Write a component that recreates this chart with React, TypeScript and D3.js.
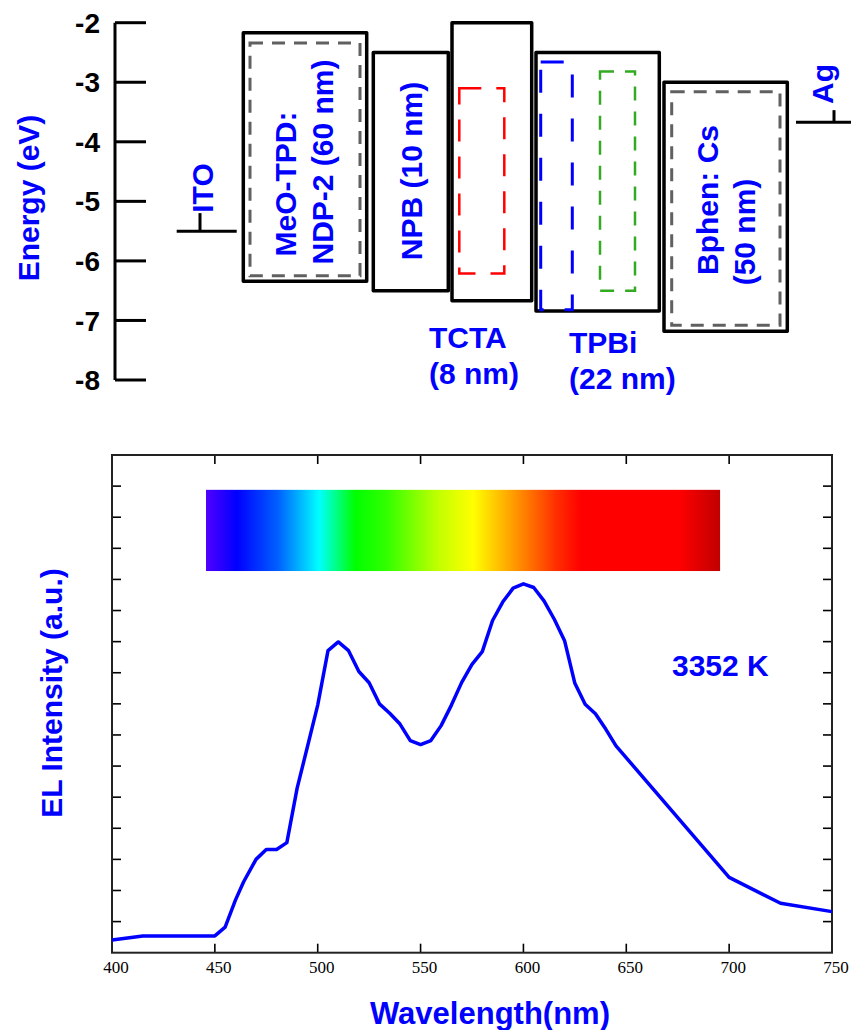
import React from "react";
import * as d3 from "d3";

// energy level diagram (eV)
const layerNames = ["MeO-TPD: NDP-2", "NPB", "TCTA", "TPBi", "Bphen: Cs"];
const layerLumo = [-2.17, -2.5, -2.0, -2.5, -3.0];
const layerHomo = [-6.34, -6.5, -6.67, -6.84, -7.18];

const dopantNames = ["MeO-TPD", "TCTA red", "TPBi blue", "TPBi green", "Bphen"];
const dopantLumo = [-2.34, -3.1, -2.66, -2.82, -3.16];
const dopantHomo = [-6.25, -6.21, -6.82, -6.5, -7.08];

const electrodeNames = ["ITO", "Ag"];
const electrodeLevel = [-5.5, -3.67];

const energyTicks = [-2, -3, -4, -5, -6, -7, -8];

// EL spectrum
const wavelength = [400, 415, 450, 455, 460, 464, 470, 475, 480, 485, 490, 495, 500, 505, 510, 515, 520, 525, 530, 535, 540, 545, 550, 555, 560, 565, 570, 575, 580, 585, 590, 595, 600, 605, 610, 615, 620, 625, 630, 635, 640, 645, 700, 725, 750];
const intensity = [0.41, 0.54, 0.54, 0.82, 1.69, 2.28, 3.0, 3.32, 3.32, 3.54, 5.29, 6.62, 7.96, 9.71, 9.99, 9.71, 9.04, 8.68, 8.0, 7.7, 7.35, 6.82, 6.69, 6.82, 7.3, 7.96, 8.69, 9.27, 9.68, 10.68, 11.28, 11.72, 11.86, 11.74, 11.31, 10.72, 10.03, 8.66, 7.99, 7.68, 7.19, 6.65, 2.42, 1.59, 1.32];
const wlTicks = [400, 450, 500, 550, 600, 650, 700, 750];
const spectrumBand = [445.7, 695.6];

// layout (pixels) for the boxes of the diagram
const layerX = [[243.3, 366.7], [373.3, 448.3], [452, 531.7], [536, 659.3], [664, 787.3]];
const dopantX = [[250, 360], [459.3, 504.3], [540.7, 572.3], [600, 635], [671.7, 780]];
const dopantStyle = [
  { color: "#606060", dash: "13,9", w: 3 },
  { color: "#ff0000", dash: "22,15", w: 2.5 },
  { color: "#0000ff", dash: "23,21", w: 3 },
  { color: "#33aa22", dash: "14,11", w: 2.5 },
  { color: "#606060", dash: "13,9", w: 3 },
];
const electrodeX = [[176.7, 236.7], [796, 851]];

const rainbow = [
  [0, "#5000ff"], [0.06, "#0000ff"], [0.14, "#0060ff"], [0.22, "#00ffff"],
  [0.29, "#00ff00"], [0.35, "#30ff00"], [0.45, "#c0ff00"], [0.52, "#ffff00"],
  [0.6, "#ff9900"], [0.68, "#ff3000"], [0.73, "#ff0000"], [0.92, "#ff0000"], [1, "#c00000"],
];

const sans = "'Liberation Sans', Arial, sans-serif";
const blue = "#0000ff";

export default function App() {
  const yE = d3.scaleLinear().domain([-2, -8]).range([22.7, 380]);

  const x = d3.scaleLinear().domain([400, 750]).range([112, 832]);
  const y = d3.scaleLinear().domain([0, 16]).range([952.7, 455]);
  const yTicks = d3.range(0, 17, 1);

  const line = d3.line<number>()
    .x((d, i) => x(wavelength[i]))
    .y((d) => y(d));

  const bold = { fontFamily: sans, fontWeight: 700 } as const;

  return (
    <svg width={851} height={1030} style={{ position: "absolute", left: 0, top: 0, background: "#fff" }}>
      <defs>
        <linearGradient id="rainbow" x1="0" x2="1" y1="0" y2="0">
          {rainbow.map(([o, c], i) => <stop key={i} offset={o as number} stopColor={c as string} />)}
        </linearGradient>
      </defs>

      {/* energy axis */}
      <g stroke="#000" strokeWidth={3}>
        <line x1={115} x2={115} y1={yE(-2)} y2={yE(-8)} />
        {energyTicks.map((t) => <line key={t} x1={115} x2={146} y1={yE(t)} y2={yE(t)} />)}
      </g>
      {energyTicks.map((t) => (
        <text key={t} x={100} y={yE(t)} dy="0.36em" textAnchor="end" fontSize={28} {...bold}>{t}</text>
      ))}
      <text transform={`translate(39,198) rotate(-90)`} textAnchor="middle" fontSize={30} fill={blue} {...bold}>Energy (eV)</text>

      {/* layers */}
      {layerNames.map((n, i) => (
        <rect key={n} x={layerX[i][0]} y={yE(layerLumo[i])} width={layerX[i][1] - layerX[i][0]}
          height={yE(layerHomo[i]) - yE(layerLumo[i])} fill="none" stroke="#000" strokeWidth={3.5} strokeLinejoin="round" />
      ))}
      {dopantNames.map((n, i) => (
        <rect key={n} x={dopantX[i][0]} y={yE(dopantLumo[i])} width={dopantX[i][1] - dopantX[i][0]}
          height={yE(dopantHomo[i]) - yE(dopantLumo[i])} fill="none" stroke={dopantStyle[i].color}
          strokeWidth={dopantStyle[i].w} strokeDasharray={dopantStyle[i].dash} />
      ))}

      {/* electrodes */}
      <g stroke="#000" strokeWidth={3}>
        {electrodeNames.map((n, i) => (
          <line key={n} x1={electrodeX[i][0]} x2={electrodeX[i][1]} y1={yE(electrodeLevel[i])} y2={yE(electrodeLevel[i])} />
        ))}
        <line x1={200} x2={200} y1={yE(electrodeLevel[0]) - 18} y2={yE(electrodeLevel[0])} />
        <line x1={834} x2={834} y1={yE(electrodeLevel[1]) - 12} y2={yE(electrodeLevel[1])} />
      </g>

      <g fill={blue} fontSize={30} {...bold}>
        <text transform="translate(213,188) rotate(-90)" textAnchor="middle">ITO</text>
        <text transform="translate(833,84) rotate(-90)" textAnchor="middle">Ag</text>
        <text transform="translate(296,184) rotate(-90)" textAnchor="middle">MeO-TPD:</text>
        <text transform="translate(333,162) rotate(-90)" textAnchor="middle">NDP-2 (60 nm)</text>
        <text transform="translate(422,171) rotate(-90)" textAnchor="middle">NPB (10 nm)</text>
        <text transform="translate(718,200) rotate(-90)" textAnchor="middle">Bphen: Cs</text>
        <text transform="translate(755,232) rotate(-90)" textAnchor="middle">(50 nm)</text>
        <text x={429} y={348}>TCTA</text>
        <text x={429} y={384}>(8 nm)</text>
        <text x={569} y={353}>TPBi</text>
        <text x={569} y={389}>(22 nm)</text>
      </g>

      {/* spectrum panel */}
      <rect x={x(spectrumBand[0])} y={y(14.88)} width={x(spectrumBand[1]) - x(spectrumBand[0])}
        height={y(12.27) - y(14.88)} fill="url(#rainbow)" />

      <g stroke="#000" strokeWidth={1.6}>
        {wlTicks.slice(1, -1).map((t) => (
          <g key={t}>
            <line x1={x(t)} x2={x(t)} y1={y(0)} y2={y(0) - 9} />
            <line x1={x(t)} x2={x(t)} y1={y(16)} y2={y(16) + 9} />
          </g>
        ))}
        {yTicks.slice(1, -1).map((t) => (
          <g key={t}>
            <line x1={x(400)} x2={x(400) + 9} y1={y(t)} y2={y(t)} />
            <line x1={x(750)} x2={x(750) - 9} y1={y(t)} y2={y(t)} />
          </g>
        ))}
      </g>
      <rect x={x(400)} y={y(16)} width={x(750) - x(400)} height={y(0) - y(16)} fill="none" stroke="#222" strokeWidth={2} />

      <path d={line(intensity) || ""} fill="none" stroke={blue} strokeWidth={3.5} strokeLinejoin="round" />

      {wlTicks.map((t) => (
        <text key={t} x={x(t) + 4} y={973} textAnchor="middle" fontSize={17} fontFamily="'Liberation Serif', 'Times New Roman', serif">{t}</text>
      ))}

      <text x={490} y={1024} textAnchor="middle" fontSize={31} fill={blue} {...bold}>Wavelength(nm)</text>
      <text transform="translate(62,693) rotate(-90)" textAnchor="middle" fontSize={30} fill={blue} {...bold}>EL Intensity (a.u.)</text>
      <text x={672} y={676} fontSize={30} fill={blue} {...bold}>3352 K</text>
    </svg>
  );
}
